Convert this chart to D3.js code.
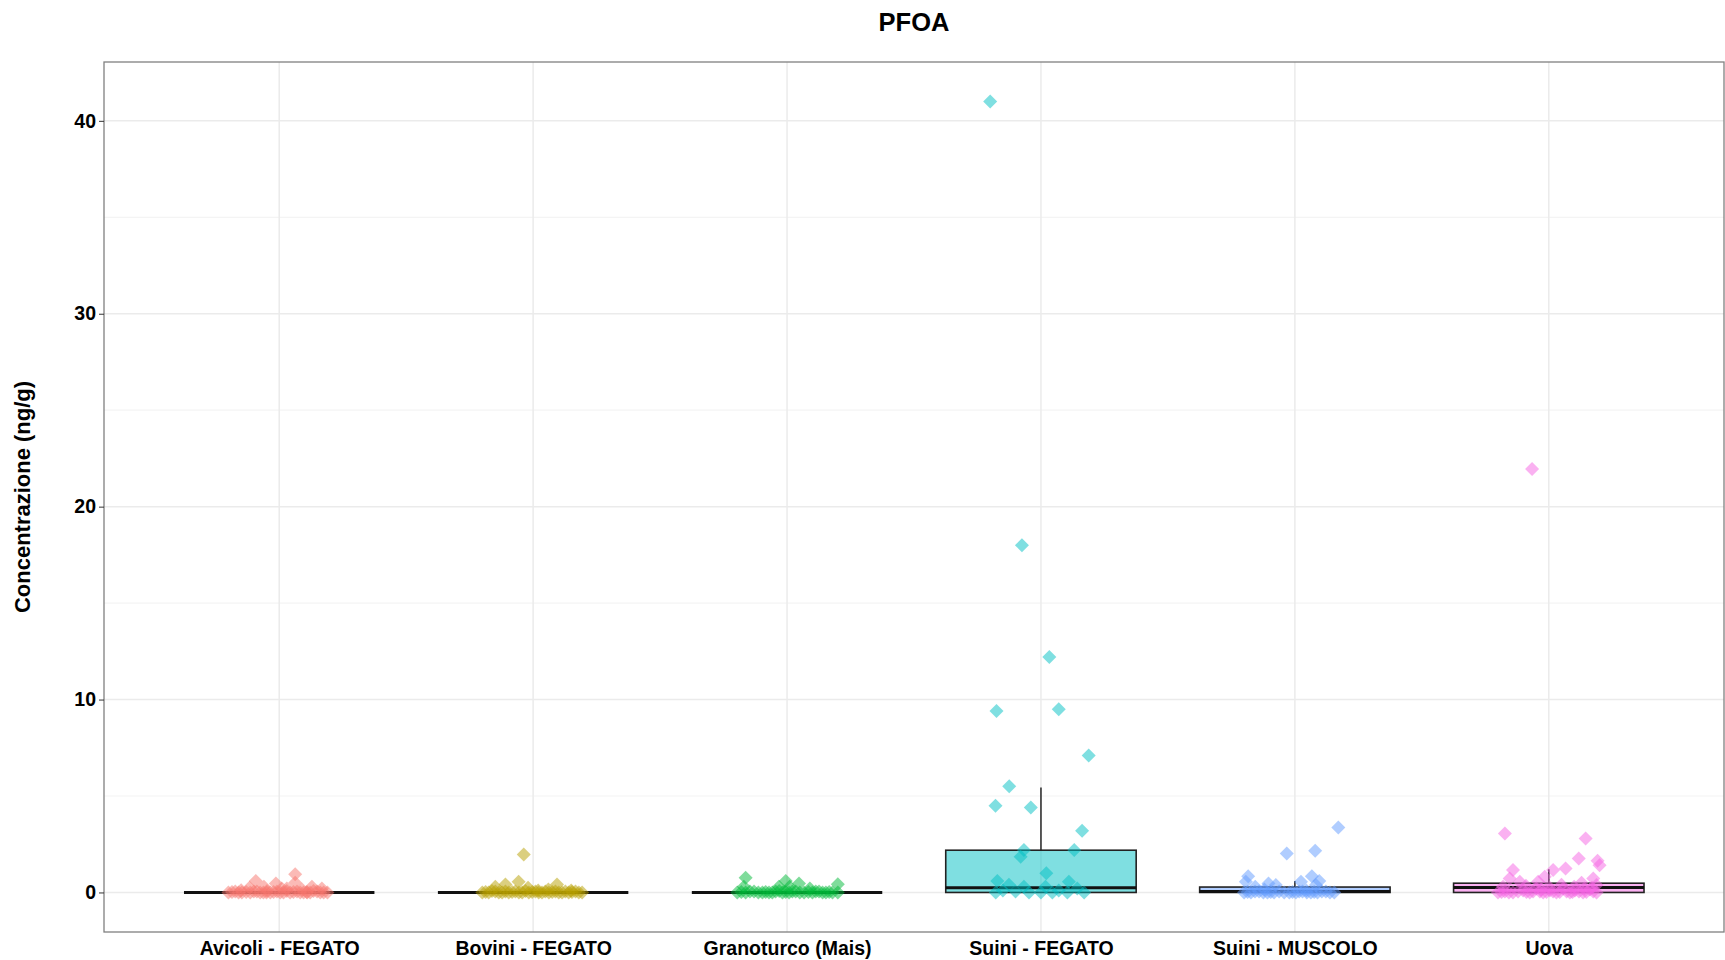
<!DOCTYPE html>
<html>
<head>
<meta charset="utf-8">
<script src="https://cdn.jsdelivr.net/npm/d3@7"></script>
<style>
  body { margin: 0; background: #fff; }
  svg { font-family: "Liberation Sans", Arial, sans-serif; }
</style>
</head>
<body>
<div id="chart"></div>
<script>
// PFOA - boxplot + jittered points

const categories = ["Avicoli - FEGATO", "Bovini - FEGATO", "Granoturco (Mais)", "Suini - FEGATO", "Suini - MUSCOLO", "Uova"];
const colors = ["#F8766D", "#B79F00", "#00BA38", "#00BFC4", "#619CFF", "#F564E3"];

// box stats per category: [whiskerLow, q1, median, q3, whiskerHigh]
const boxStats = [
    [0, 0, 0, 0, 0],
    [0, 0, 0, 0, 0],
    [0, 0, 0, 0, 0],
    [0, 0, 0.24, 2.19, 5.44],
    [0, 0, 0.05, 0.28, 0.6],
    [0, 0, 0.26, 0.48, 1.2]
];

// points: [jitter (fraction of category step), value ng/g]
const avicoliPts = [
    [-0.2, 0], [-0.186, 0.03], [-0.173, 0.05], [-0.16, 0], [-0.147, 0], [-0.13, 0.03], [-0.114, 0],
    [-0.1, 0.05], [-0.088, 0.05], [-0.075, 0], [-0.062, 0], [-0.048, 0.08], [-0.035, 0], [-0.022, 0.03],
    [-0.009, 0.05], [0.004, 0], [0.017, 0], [0.03, 0.08], [0.043, 0], [0.056, 0.03], [0.07, 0.05],
    [0.083, 0], [0.096, 0], [0.109, 0.03], [0.122, 0], [0.135, 0.08], [0.149, 0.05], [0.162, 0],
    [0.175, 0], [0.19, 0], [-0.05, 0], [0.11, 0],
    [0.063, 0.95], [0.063, 0.5], [-0.092, 0.6], [-0.013, 0.47], [0.129, 0.29], [-0.117, 0.24],
    [0.03, 0.21], [0.168, 0.21], [-0.06, 0.3], [0.09, 0.15], [-0.15, 0.12], [0.01, 0.2]
];
const boviniPts = [
    [-0.2, 0], [-0.187, 0.03], [-0.175, 0], [-0.162, 0.08], [-0.149, 0.05], [-0.135, 0], [-0.122, 0],
    [-0.109, 0.05], [-0.096, 0], [-0.083, 0.03], [-0.07, 0.05], [-0.056, 0], [-0.043, 0], [-0.03, 0.08],
    [-0.017, 0], [-0.004, 0.03], [0.009, 0.05], [0.022, 0], [0.035, 0], [0.048, 0.05], [0.062, 0],
    [0.075, 0.03], [0.088, 0.05], [0.101, 0], [0.114, 0], [0.127, 0.05], [0.14, 0], [0.153, 0.03],
    [0.167, 0.05], [0.18, 0], [0.193, 0],
    [-0.037, 1.97], [-0.057, 0.55], [0.094, 0.41], [-0.109, 0.41], [-0.149, 0.29], [0.02, 0.1],
    [0.15, 0.1], [-0.02, 0.25], [0.06, 0.15]
];
const granoPts = [
    [-0.196, 0], [-0.18, 0.03], [-0.163, 0], [-0.146, 0.05], [-0.13, 0.05], [-0.113, 0], [-0.097, 0],
    [-0.084, 0.03], [-0.071, 0], [-0.058, 0], [-0.045, 0.05], [-0.031, 0.08], [-0.018, 0], [-0.005, 0.03],
    [0.008, 0], [0.021, 0.05], [0.034, 0.05], [0.05, 0], [0.067, 0], [0.084, 0.03], [0.1, 0],
    [0.113, 0.05], [0.126, 0.05], [0.14, 0], [0.153, 0], [0.166, 0.03], [0.179, 0], [0.2, 0],
    [-0.163, 0.76], [-0.005, 0.59], [0.047, 0.47], [0.2, 0.43], [-0.032, 0.29], [-0.17, 0.3],
    [0.01, 0.3], [0.09, 0.2]
];
const suiniFegatoPts = [
    [-0.2, 41.0], [-0.075, 18.0], [0.033, 12.2], [-0.175, 9.4], [0.07, 9.5], [0.188, 7.1],
    [-0.125, 5.5], [-0.179, 4.5], [-0.04, 4.4], [0.162, 3.2], [-0.067, 2.2], [-0.08, 1.85],
    [0.131, 2.2], [0.021, 1.0], [-0.172, 0.6], [-0.178, 0], [-0.126, 0.4], [-0.1, 0.05],
    [-0.067, 0.3], [-0.047, 0], [0.0, 0], [0.018, 0.3], [0.045, 0], [0.11, 0.55], [0.104, 0],
    [0.143, 0.2], [0.17, 0], [-0.15, 0.1], [0.07, 0.1]
];
const suiniMuscoloPts = [
    [0.171, 3.37], [-0.032, 2.02], [0.08, 2.16], [-0.184, 0.84], [-0.193, 0.55], [-0.156, 0.29],
    [-0.104, 0.47], [-0.075, 0.38], [0.024, 0.55], [0.067, 0.84], [0.096, 0.6], [0.083, 0.38],
    [-0.2, 0], [-0.186, 0.03], [-0.173, 0], [-0.157, 0.05], [-0.141, 0.05], [-0.124, 0], [-0.108, 0],
    [-0.095, 0.03], [-0.082, 0], [-0.062, 0.05], [-0.042, 0], [-0.022, 0], [-0.009, 0.03],
    [0.004, 0], [0.017, 0.05], [0.03, 0.05], [0.047, 0], [0.063, 0], [0.076, 0.03], [0.089, 0],
    [0.106, 0.05], [0.122, 0.05], [0.138, 0], [0.155, 0], [-0.12, 0.15], [0.045, 0.1]
];
const uovaPts = [
    [-0.066, 21.95], [-0.173, 3.06], [0.145, 2.8], [0.118, 1.76], [0.192, 1.64], [0.2, 1.41],
    [0.066, 1.24], [-0.141, 1.16], [0.017, 1.16], [-0.016, 0.81], [0.175, 0.72], [-0.154, 0.72],
    [-0.114, 0.55], [-0.042, 0.55], [0.129, 0.5], [0.188, 0.38],
    [-0.2, 0], [-0.186, 0.03], [-0.173, 0.05], [-0.157, 0], [-0.141, 0], [-0.121, 0.05], [-0.101, 0.1],
    [-0.088, 0.03], [-0.075, 0], [-0.062, 0.05], [-0.049, 0.2], [-0.035, 0.05], [-0.022, 0],
    [-0.009, 0.03], [0.004, 0.1], [0.017, 0.05], [0.03, 0], [0.043, 0.03], [0.057, 0.2], [0.07, 0.05],
    [0.083, 0], [0.093, 0.03], [0.103, 0.1], [0.119, 0.05], [0.135, 0], [0.148, 0.03], [0.162, 0.15],
    [0.175, 0.05], [0.188, 0], [-0.18, 0.3], [-0.09, 0.35], [0.0, 0.3], [0.05, 0.4], [0.1, 0.3],
    [0.17, 0.25], [-0.03, 0.15], [0.14, 0.2]
];
const points = [avicoliPts, boviniPts, granoPts, suiniFegatoPts, suiniMuscoloPts, uovaPts];

const yTicks = [0, 10, 20, 30, 40];
const yMinor = [5, 15, 25, 35];

const W = 1725, H = 960;
const panel = {left: 104, right: 1724, top: 62, bottom: 932};

const svg = d3.select("#chart").append("svg")
    .attr("width", W)
    .attr("height", H);

const x = d3.scalePoint()
    .domain(categories)
    .range([panel.left, panel.right])
    .padding(0.69);
const step = x.step();

const y = d3.scaleLinear()
    .domain([-2.05, 43.05])
    .range([panel.bottom, panel.top]);

// grid
svg.append("g").selectAll("line.minor")
    .data(yMinor)
    .enter().append("line")
    .attr("x1", panel.left).attr("x2", panel.right)
    .attr("y1", d => y(d)).attr("y2", d => y(d))
    .attr("stroke", "#f4f4f4").attr("stroke-width", 1.2);

svg.append("g").selectAll("line.major")
    .data(yTicks)
    .enter().append("line")
    .attr("x1", panel.left).attr("x2", panel.right)
    .attr("y1", d => y(d)).attr("y2", d => y(d))
    .attr("stroke", "#ebebeb").attr("stroke-width", 1.5);

svg.append("g").selectAll("line.vgrid")
    .data(categories)
    .enter().append("line")
    .attr("x1", d => x(d)).attr("x2", d => x(d))
    .attr("y1", panel.top).attr("y2", panel.bottom)
    .attr("stroke", "#ebebeb").attr("stroke-width", 1.5);

// boxplots
const boxW = step * 0.75;
const boxes = svg.append("g").selectAll("g")
    .data(categories)
    .enter().append("g");

boxes.append("line")
    .attr("x1", d => x(d)).attr("x2", d => x(d))
    .attr("y1", (d, i) => y(boxStats[i][3]))
    .attr("y2", (d, i) => y(boxStats[i][4]))
    .attr("stroke", "#333").attr("stroke-width", 1.6);

boxes.append("rect")
    .attr("x", d => x(d) - boxW / 2)
    .attr("width", boxW)
    .attr("y", (d, i) => y(boxStats[i][3]))
    .attr("height", (d, i) => Math.max(0, y(boxStats[i][1]) - y(boxStats[i][3])))
    .attr("fill", (d, i) => colors[i])
    .attr("fill-opacity", 0.5)
    .attr("stroke", "#222")
    .attr("stroke-width", 1.6);

boxes.append("line")
    .attr("x1", d => x(d) - boxW / 2).attr("x2", d => x(d) + boxW / 2)
    .attr("y1", (d, i) => y(boxStats[i][2]))
    .attr("y2", (d, i) => y(boxStats[i][2]))
    .attr("stroke", "#111").attr("stroke-width", 3);

// jittered diamonds
const diamond = "M0,-7L7,0L0,7L-7,0Z";
categories.forEach((c, i) => {
    svg.append("g").selectAll("path")
	.data(points[i])
	.enter().append("path")
	.attr("d", diamond)
	.attr("transform", d => "translate(" + (x(c) + d[0] * step) + "," + y(d[1]) + ")")
	.attr("fill", colors[i])
	.attr("fill-opacity", 0.5);
});

// panel border
svg.append("rect")
    .attr("x", panel.left).attr("y", panel.top)
    .attr("width", panel.right - panel.left)
    .attr("height", panel.bottom - panel.top)
    .attr("fill", "none")
    .attr("stroke", "#808080")
    .attr("stroke-width", 1.3);

// axes
const yAxis = svg.append("g")
    .attr("transform", "translate(" + panel.left + ",0)")
    .call(d3.axisLeft(y).tickValues(yTicks).tickSize(5).tickPadding(3));
yAxis.select(".domain").remove();
yAxis.selectAll("line").attr("stroke", "#333");
yAxis.selectAll("text")
    .attr("font-size", 19.5).attr("font-weight", "bold").attr("fill", "#000")
    .attr("font-family", "Liberation Sans, Arial, sans-serif");

const xAxis = svg.append("g")
    .attr("transform", "translate(0," + panel.bottom + ")")
    .call(d3.axisBottom(x).tickSize(0).tickPadding(9));
xAxis.select(".domain").remove();
xAxis.selectAll("text")
    .attr("font-size", 19.5).attr("font-weight", "bold").attr("fill", "#000")
    .attr("font-family", "Liberation Sans, Arial, sans-serif");

// titles
svg.append("text")
    .attr("x", (panel.left + panel.right) / 2)
    .attr("y", 31)
    .attr("text-anchor", "middle")
    .attr("font-size", 25.5).attr("font-weight", "bold")
    .text("PFOA");

svg.append("text")
    .attr("transform", "translate(30," + (panel.top + panel.bottom) / 2 + ") rotate(-90)")
    .attr("text-anchor", "middle")
    .attr("font-size", 22).attr("font-weight", "bold")
    .text("Concentrazione (ng/g)");
</script>
</body>
</html>
